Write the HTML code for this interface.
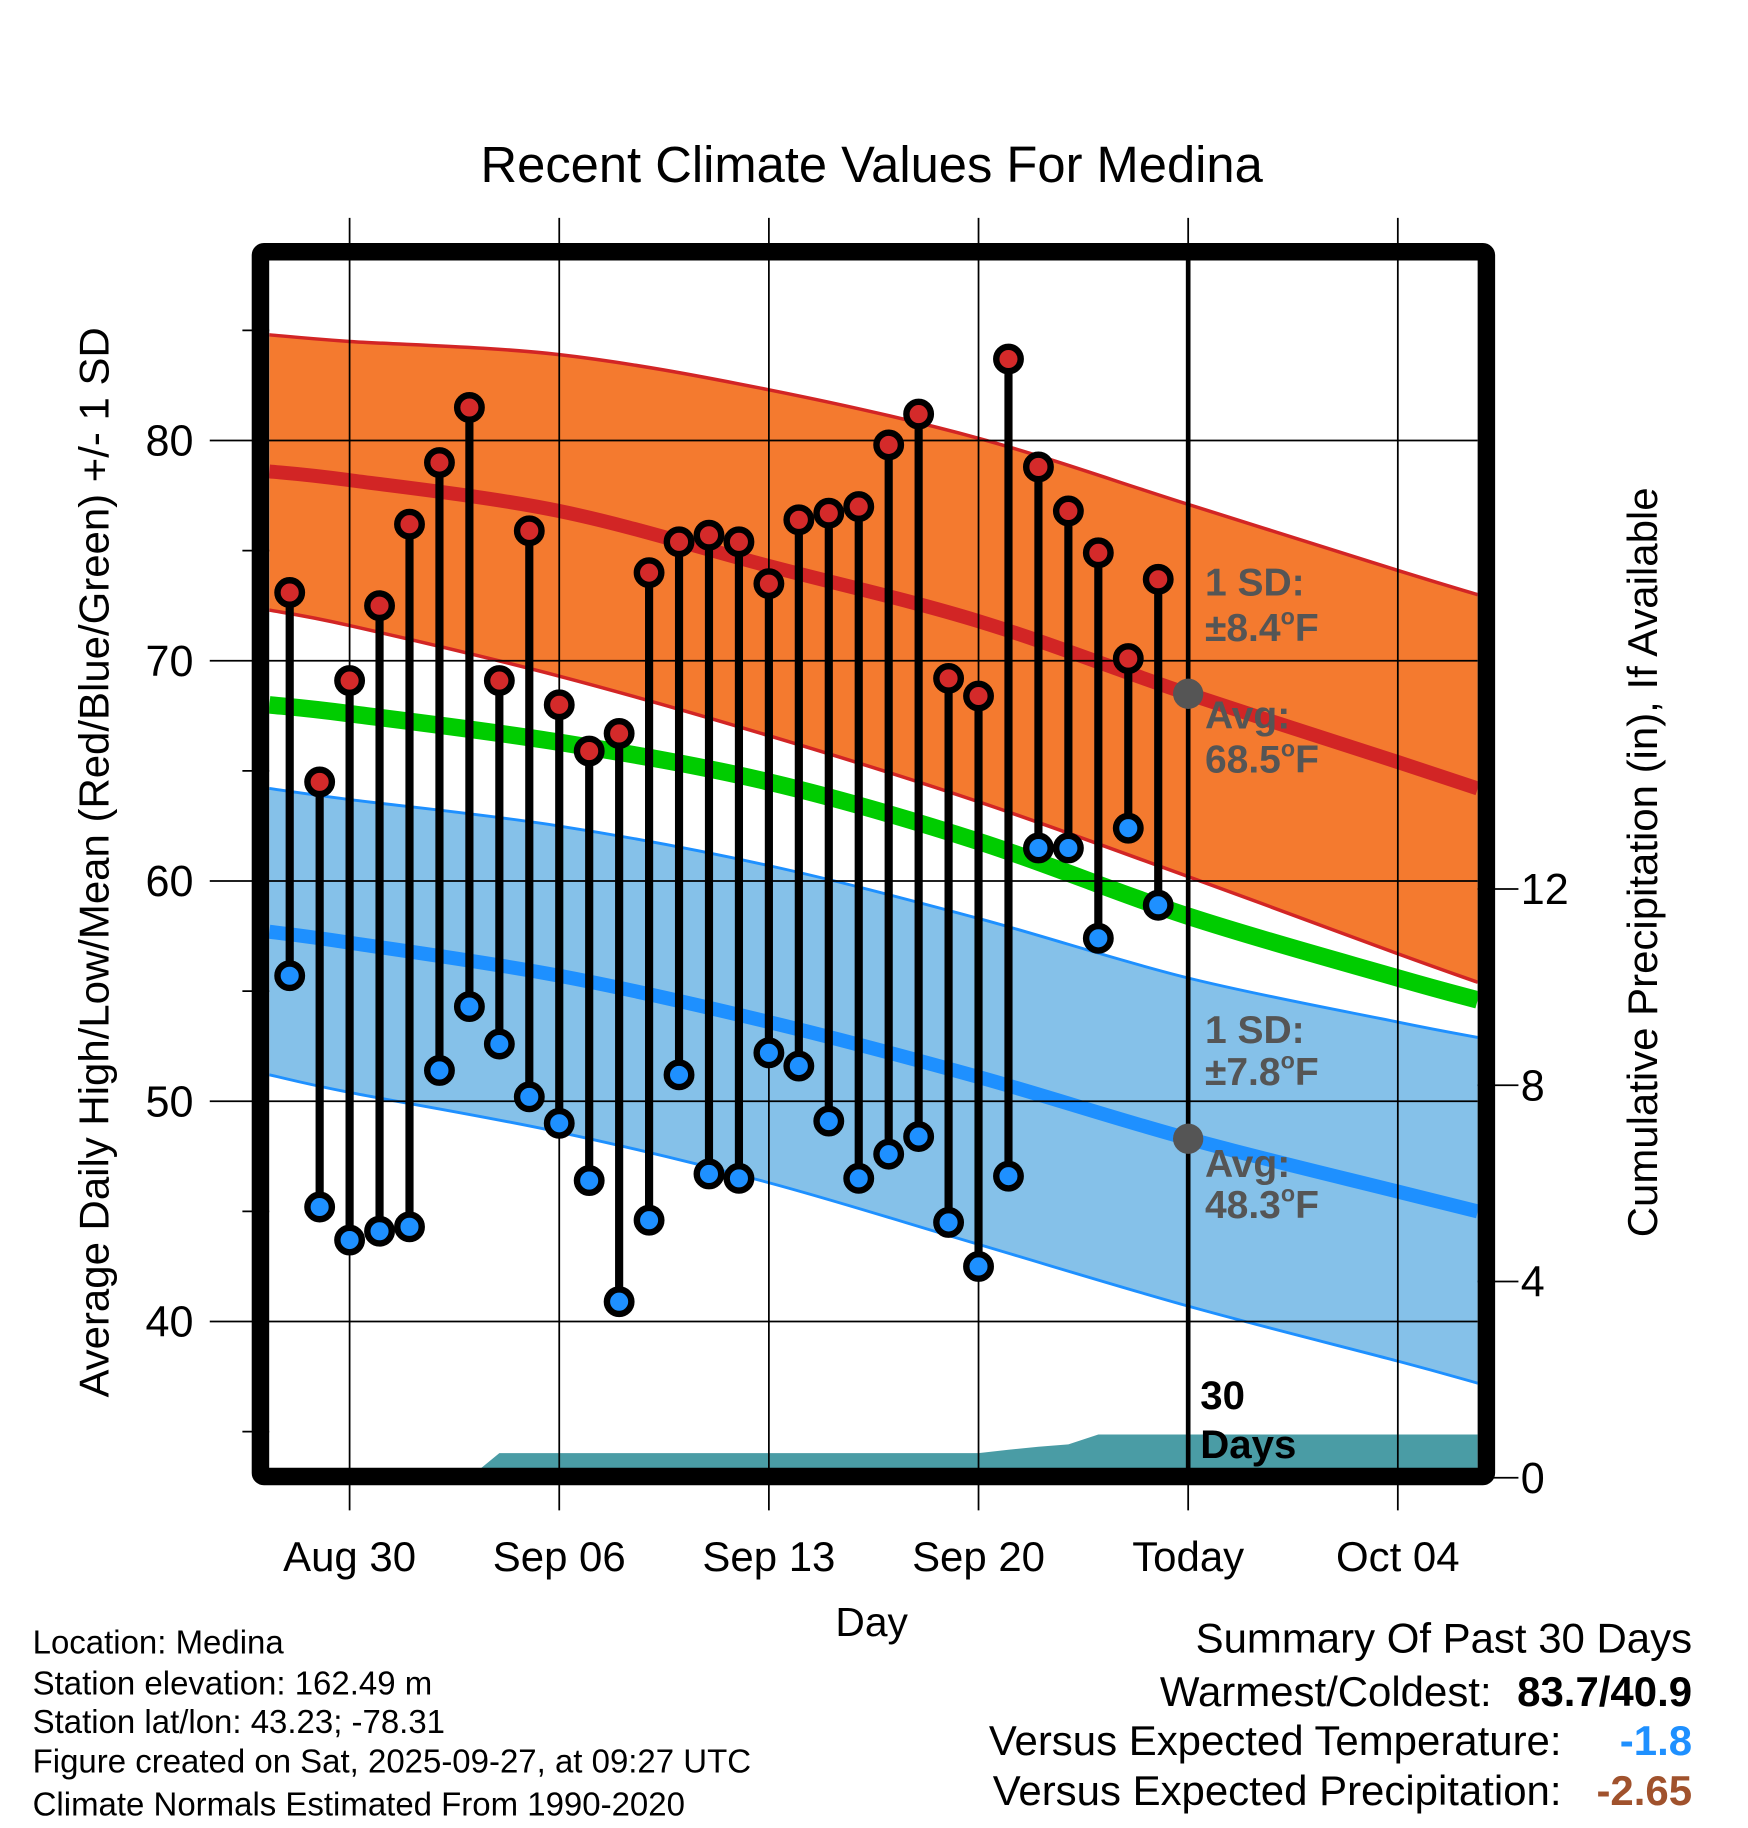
<!DOCTYPE html>
<html><head><meta charset="utf-8"><style>
html,body{margin:0;padding:0;background:#fff;}
svg{display:block;font-family:"Liberation Sans",Arial,sans-serif;}
</style></head><body>
<svg id="chart" width="1748" height="1828" viewBox="0 0 1500 1568.6" preserveAspectRatio="none" xmlns="http://www.w3.org/2000/svg">
<defs><clipPath id="plotclip"><rect x="231" y="223" width="1037" height="1037"/></clipPath></defs>
<g id="content"></g>
<text x="748" y="156" font-size="43.5" text-anchor="middle">Recent Climate Values For Medina</text>
<text transform="translate(93,740) rotate(-90)" font-size="36" text-anchor="middle">Average Daily High/Low/Mean (Red/Blue/Green) +/- 1 SD</text>
<text transform="translate(1422,740) rotate(-90)" font-size="36" text-anchor="middle">Cumulative Precipitation (in), If Available</text>
<text x="748" y="1404" font-size="35" text-anchor="middle">Day</text>
<g font-size="28.3">
<text x="28" y="1419">Location: Medina</text>
<text x="28" y="1454">Station elevation: 162.49 m</text>
<text x="28" y="1487">Station lat/lon: 43.23; -78.31</text>
<text x="28" y="1521">Figure created on Sat, 2025-09-27, at 09:27 UTC</text>
<text x="28" y="1558">Climate Normals Estimated From 1990-2020</text>
</g>
<g font-size="36">
<text x="1452" y="1418" text-anchor="end">Summary Of Past 30 Days</text>
<text x="1280" y="1464" text-anchor="end">Warmest/Coldest:</text>
<text x="1452" y="1464" text-anchor="end" font-weight="bold">83.7/40.9</text>
<text x="1340" y="1506" text-anchor="end">Versus Expected Temperature:</text>
<text x="1452" y="1506" text-anchor="end" font-weight="bold" fill="#1e90ff">-1.8</text>
<text x="1340" y="1549" text-anchor="end">Versus Expected Precipitation:</text>
<text x="1452" y="1549" text-anchor="end" font-weight="bold" fill="#a0522d">-2.65</text>
</g>
</svg>
<script>
const highs = [73.1,64.5,69.1,72.5,76.2,79.0,81.5,69.1,75.9,68.0,65.9,66.7,74.0,75.4,75.7,75.4,73.5,76.4,76.7,77.0,79.8,81.2,69.2,68.4,83.7,78.8,76.8,74.9,70.1,73.7];
const lows  = [55.7,45.2,43.7,44.1,44.3,51.4,54.3,52.6,50.2,49.0,46.4,40.9,44.6,51.2,46.7,46.5,52.2,51.6,49.1,46.5,47.6,48.4,44.5,42.5,46.6,61.5,61.5,57.4,62.4,58.9];
const precip = [0,0,0,0,0,0,0,0.5,0.5,0.5,0.5,0.5,0.5,0.5,0.5,0.5,0.5,0.5,0.5,0.5,0.5,0.5,0.5,0.5,0.57,0.63,0.68,0.88,0.88,0.88];
const normDays = [-0.68,2,9,16,23,30,37,39.67];
const normHigh = [78.6,78.2,76.8,74.3,71.8,68.5,65.4,64.2];
const normHighUp = [84.8,84.5,83.9,82.3,80.1,77.1,74.1,73.0];
const normHighLo = [72.3,71.6,69.3,66.6,63.6,60.2,56.7,55.4];
const normMean = [68.0,67.6,66.3,64.5,61.8,58.4,55.6,54.6];
const normLow = [57.7,57.2,55.7,53.6,51.1,48.3,45.9,45.0];
const normLowUp = [64.2,63.7,62.5,60.7,58.3,55.6,53.6,52.9];
const normLowLo = [51.2,50.4,48.6,46.3,43.5,40.7,38.2,37.2];
const yTicks = [40,50,60,70,80];
const y2Ticks = [0,4,8,12];
const xTickDays = [2,9,16,23,30,37];
const xTickLabels = ["Aug 30","Sep 06","Sep 13","Sep 20","Today","Oct 04"];

const NS="http://www.w3.org/2000/svg";
const g=document.getElementById('content');
const X=d=>248.6+25.7*d;
const Y=v=>756-(v-60)*18.9;
const Y2=p=>1268-p*42.1;
function mk(tag,attrs,parent){const e=document.createElementNS(NS,tag);for(const k in attrs)e.setAttribute(k,attrs[k]);(parent||g).appendChild(e);return e;}
function smooth(arr,rev){
  let P=arr.map((v,i)=>[X(normDays[i]),Y(v)]);
  if(rev)P=P.reverse();
  let d="";
  for(let i=0;i<P.length-1;i++){
    const p0=P[Math.max(0,i-1)],p1=P[i],p2=P[i+1],p3=P[Math.min(P.length-1,i+2)];
    const c1=[p1[0]+(p2[0]-p0[0])/6,p1[1]+(p2[1]-p0[1])/6];
    const c2=[p2[0]-(p3[0]-p1[0])/6,p2[1]-(p3[1]-p1[1])/6];
    if(i===0)d+=(rev?"L":"M")+p1[0].toFixed(1)+","+p1[1].toFixed(1);
    d+="C"+c1.map(n=>n.toFixed(1))+" "+c2.map(n=>n.toFixed(1))+" "+p2[0].toFixed(1)+","+p2[1].toFixed(1);
  }
  return d;
}
const clipG=mk('g',{'clip-path':'url(#plotclip)'});

let e=mk('path',{d:smooth(normHighUp)+smooth(normHighLo,true)+"Z",fill:'#f47a2f'},clipG);

e=mk('path',{d:smooth(normLowUp)+smooth(normLowLo,true)+"Z",fill:'#85c1e9'},clipG);

[[normHighUp,'#d22525',3,'high-upper-line'],[normHighLo,'#d22525',3,'high-lower-line'],[normLowUp,'#1e90ff',2.5,'low-upper-line'],[normLowLo,'#1e90ff',2.5,'low-lower-line'],[normMean,'#00cc00',15,'mean-normal-line'],[normHigh,'#d22525',12,'high-normal-line'],[normLow,'#1e90ff',12,'low-normal-line']].forEach(([a,c,w,n])=>{
  const l=mk('path',{d:smooth(a),fill:'none',stroke:c,'stroke-width':w},clipG);
  
  
});
let pp=[X(-0.68)+","+Y2(0)];
precip.forEach((p,i)=>pp.push(X(i)+","+Y2(p)));
pp.push("1268,"+Y2(precip[precip.length-1]));pp.push("1268,"+Y2(0));
e=mk('polygon',{points:pp.join(' '),fill:'#4a9ca5'},clipG);


yTicks.forEach(v=>{
  const l=mk('line',{x1:180,x2:1268,y1:Y(v),y2:Y(v),stroke:'#000','stroke-width':1.5});
  
  const t=mk('text',{x:166,y:Y(v)+13,'font-size':37,'text-anchor':'end'});t.textContent=v;
  
  const m=mk('line',{x1:208,x2:231,y1:Y(v+5),y2:Y(v+5),stroke:'#000','stroke-width':1.5});
  
});
const mt=mk('line',{x1:208,x2:231,y1:Y(35),y2:Y(35),stroke:'#000','stroke-width':1.5});

y2Ticks.forEach(p=>{
  const l=mk('line',{x1:1268,x2:1303,y1:Y2(p),y2:Y2(p),stroke:'#000','stroke-width':1.5});
  
  const t=mk('text',{x:1305,y:Y2(p)+13,'font-size':37});t.textContent=p;
  
});
xTickDays.forEach((d,i)=>{
  const l=mk('line',{x1:X(d),x2:X(d),y1:187,y2:1296,stroke:'#000','stroke-width':1.5});
  
  const t=mk('text',{x:X(d),y:1348,'font-size':36,'text-anchor':'middle'});t.textContent=xTickLabels[i];
  
});

highs.forEach((h,i)=>{
  const s=mk('line',{x1:X(i),x2:X(i),y1:Y(h),y2:Y(lows[i]),stroke:'#000','stroke-width':7});
  
});
highs.forEach((h,i)=>{
  const c=mk('circle',{cx:X(i),cy:Y(h),r:10.5,fill:'#d42a2a',stroke:'#000','stroke-width':5.5});
  
  const c2=mk('circle',{cx:X(i),cy:Y(lows[i]),r:10.5,fill:'#1e90ff',stroke:'#000','stroke-width':5.5});
  
});
e=mk('line',{x1:X(30),x2:X(30),y1:223,y2:1260,stroke:'#000','stroke-width':4});

e=mk('circle',{cx:X(30),cy:Y(normHigh[5]),r:13,fill:'#555'});

e=mk('circle',{cx:X(30),cy:Y(normLow[5]),r:13,fill:'#555'});

[["1 SD:","",511,'high-sd-label'],["±8.4","F",550,'high-sd-value'],["Avg:","",625,'high-avg-label'],["68.5","F",663,'high-avg-value'],["1 SD:","",895,'low-sd-label'],["±7.8","F",931,'low-sd-value'],["Avg:","",1010,'low-avg-label'],["48.3","F",1045,'low-avg-value']].forEach(([s,u,y,n])=>{
  const t=mk('text',{x:1034,y:y,'font-size':33.5,'font-weight':'bold',fill:'#555'});
  
  if(u){
    t.appendChild(document.createTextNode(s));
    const sup=mk('tspan',{'font-size':20,dy:-14},t);sup.textContent="o";
    const f=mk('tspan',{dy:14},t);f.textContent=u;
  } else t.textContent=s;
});
[["30",1209],["Days",1251]].forEach(([s,y])=>{
  const t=mk('text',{x:1030,y:y,'font-size':34.5,'font-weight':'bold',fill:'#000'});t.textContent=s;
  
});
e=mk('rect',{x:223.5,y:216,width:1052,height:1051,fill:'none',stroke:'#000','stroke-width':15,rx:3});

</script>
</body></html>
